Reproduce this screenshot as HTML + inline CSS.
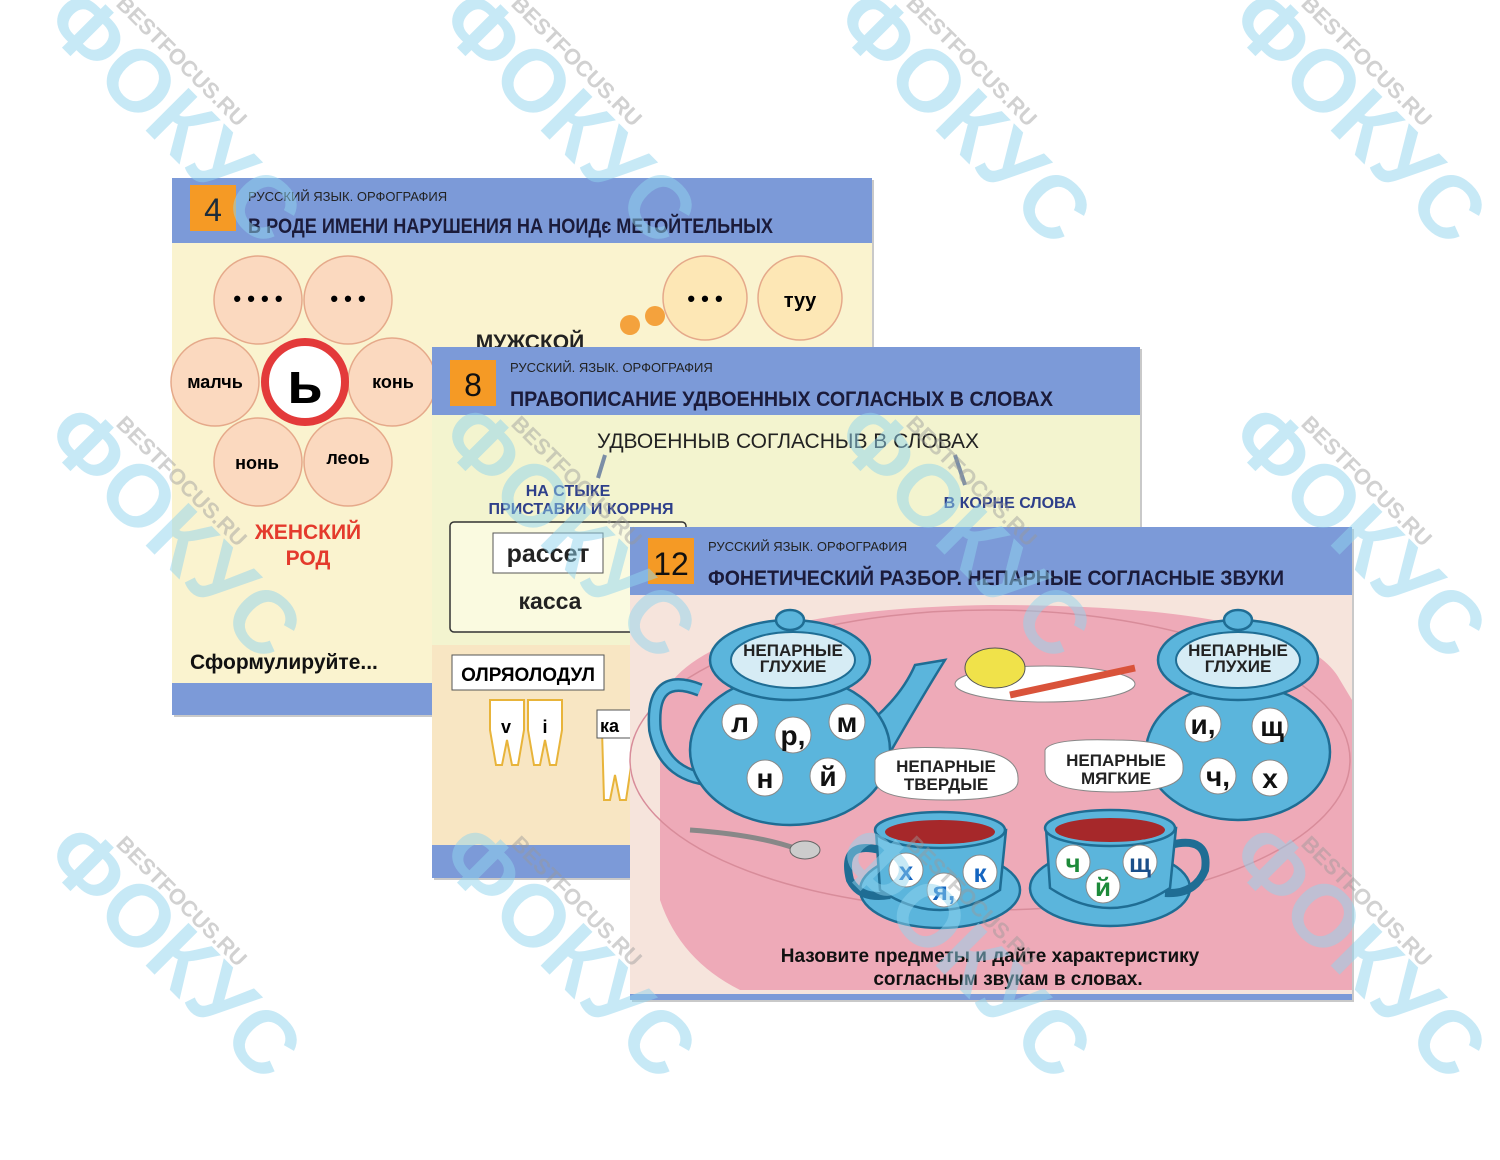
<!DOCTYPE html>
<html><head><meta charset="utf-8"><style>
html,body{margin:0;padding:0;background:#fff;}
svg{display:block;font-family:"Liberation Sans",sans-serif;}
.b{font-weight:bold}
</style></head><body>
<svg width="1500" height="1160" viewBox="0 0 1500 1160" xmlns="http://www.w3.org/2000/svg">
<rect width="1500" height="1160" fill="#fff"/>

<!-- CARD 1 -->
<g>
<rect x="174" y="180" width="700" height="537" fill="#c9c9c9"/>
<rect x="172" y="178" width="700" height="537" fill="#faf3cf"/>
<rect x="172" y="178" width="700" height="65" fill="#7c9ad8"/>
<rect x="172" y="683" width="700" height="32" fill="#7c9ad8"/>
<rect x="190" y="185" width="46" height="46" fill="#f59a25"/>
<text x="213" y="221" font-size="32" text-anchor="middle" fill="#1d2c3a">4</text>
<text x="248" y="201" font-size="13" fill="#222">РУССКИЙ ЯЗЫК. ОРФОГРАФИЯ</text>
<text x="248" y="233" font-size="21" class="b" fill="#1b1b3a" textLength="525" lengthAdjust="spacingAndGlyphs">В РОДЕ ИМЕНИ НАРУШЕНИЯ НА НОИДє МЕТОЙТЕЛЬНЫХ</text>
<g fill="#fbd9bf" stroke="#e5a98a" stroke-width="1.5">
<circle cx="258" cy="300" r="44"/><circle cx="348" cy="300" r="44"/>
<circle cx="215" cy="382" r="44"/><circle cx="392" cy="382" r="44"/>
<circle cx="258" cy="462" r="44"/><circle cx="348" cy="462" r="44"/>
<circle cx="705" cy="298" r="42" fill="#fde7b5"/><circle cx="800" cy="298" r="42" fill="#fde7b5"/>
</g>
<circle cx="305" cy="382" r="40" fill="#fff" stroke="#e33a3a" stroke-width="8"/>
<text x="305" y="403" font-size="58" class="b" text-anchor="middle">ь</text>
<text x="258" y="306" font-size="22" class="b" text-anchor="middle">• • • •</text>
<text x="348" y="306" font-size="22" class="b" text-anchor="middle">• • •</text>
<text x="705" y="306" font-size="22" class="b" text-anchor="middle">• • •</text>
<text x="800" y="307" font-size="20" class="b" text-anchor="middle">туу</text>
<text x="215" y="388" font-size="18" class="b" text-anchor="middle">малчь</text>
<text x="393" y="388" font-size="18" class="b" text-anchor="middle">конь</text>
<text x="257" y="469" font-size="18" class="b" text-anchor="middle">нонь</text>
<text x="348" y="464" font-size="18" class="b" text-anchor="middle">леоь</text>
<text x="308" y="539" font-size="21" class="b" text-anchor="middle" fill="#e43a2c">ЖЕНСКИЙ</text>
<text x="308" y="565" font-size="21" class="b" text-anchor="middle" fill="#e43a2c">РОД</text>
<text x="530" y="349" font-size="21" class="b" text-anchor="middle" fill="#222">МУЖСКОЙ</text>
<circle cx="630" cy="325" r="10" fill="#f4a23d"/><circle cx="655" cy="316" r="10" fill="#f4a23d"/>
<text x="190" y="669" font-size="21" class="b" fill="#111">Сформулируйте...</text>
</g>

<!-- CARD 2 -->
<g>
<rect x="434" y="349" width="708" height="531" fill="#c9c9c9"/>
<rect x="432" y="347" width="708" height="531" fill="#f3f4cf"/>
<rect x="432" y="645" width="708" height="233" fill="#f8e6c3"/>
<rect x="432" y="347" width="708" height="68" fill="#7c9ad8"/>
<rect x="432" y="845" width="708" height="33" fill="#7c9ad8"/>
<rect x="450" y="360" width="46" height="46" fill="#f59a25"/>
<text x="473" y="396" font-size="32" text-anchor="middle" fill="#111">8</text>
<text x="510" y="372" font-size="13" fill="#222">РУССКИЙ. ЯЗЫК. ОРФОГРАФИЯ</text>
<text x="510" y="406" font-size="21" class="b" fill="#1b1b3a" textLength="543" lengthAdjust="spacingAndGlyphs">ПРАВОПИСАНИЕ УДВОЕННЫХ СОГЛАСНЫХ В СЛОВАХ</text>
<text x="788" y="448" font-size="21" text-anchor="middle" fill="#222">УДВОЕННЫВ СОГЛАСНЫВ В СЛОВАХ</text>
<path d="M605 455 L598 478 M955 455 L965 485" stroke="#7b8ea6" stroke-width="4"/>
<text x="568" y="496" font-size="16" class="b" text-anchor="middle" fill="#2e3f8a">НА СТЫКЕ</text>
<text x="581" y="514" font-size="16" class="b" text-anchor="middle" fill="#2e3f8a">ПРИСТАВКИ И КОРРНЯ</text>
<text x="1010" y="508" font-size="16" class="b" text-anchor="middle" fill="#2e3f8a">В КОРНЕ СЛОВА</text>
<rect x="450" y="522" width="236" height="110" rx="4" fill="#fafae0" stroke="#333" stroke-width="1.5"/>
<rect x="493" y="533" width="110" height="40" fill="#fff" stroke="#555"/>
<text x="548" y="562" font-size="25" class="b" text-anchor="middle" fill="#222">рассет</text>
<text x="550" y="609" font-size="23" class="b" text-anchor="middle" fill="#222">касса</text>
<rect x="452" y="655" width="152" height="35" fill="#fff" stroke="#555"/>
<text x="528" y="681" font-size="19" class="b" text-anchor="middle">ОЛРЯОЛОДУЛ</text>
<g fill="#fff" stroke="#e8b43a" stroke-width="2">
<path d="M490 700 h34 v30 l-6 35 h-6 l-5 -25 l-5 25 h-6 l-6 -35z"/>
<path d="M528 700 h34 v30 l-6 35 h-6 l-5 -25 l-5 25 h-6 l-6 -35z"/>
<path d="M602 730 h30 v30 l-6 40 h-6 l-5 -25 l-5 25 h-6z"/>
</g>
<text x="506" y="733" font-size="18" class="b" text-anchor="middle">v</text>
<text x="545" y="733" font-size="18" class="b" text-anchor="middle">i</text>
<rect x="597" y="710" width="40" height="28" fill="#fff" stroke="#555"/>
<text x="600" y="732" font-size="18" class="b">ка</text>
</g>

<!-- CARD 3 -->
<g>
<rect x="632" y="529" width="722" height="473" fill="#c9c9c9"/>
<rect x="630" y="527" width="722" height="473" fill="#f6e4dc"/>
<path d="M660 700 Q700 610 990 605 Q1300 605 1340 680 L1352 700 L1352 990 L740 990 Q680 960 660 900Z" fill="#eeaab8"/>
<ellipse cx="990" cy="760" rx="360" ry="150" fill="none" stroke="#d88c9a" stroke-width="1.5"/>
<rect x="630" y="527" width="722" height="68" fill="#7c9ad8"/>
<rect x="630" y="994" width="722" height="6" fill="#7c9ad8"/>
<rect x="648" y="538" width="46" height="46" fill="#f59a25"/>
<text x="671" y="575" font-size="32" text-anchor="middle" fill="#111">12</text>
<text x="708" y="551" font-size="13" fill="#222">РУССКИЙ ЯЗЫК. ОРФОГРАФИЯ</text>
<text x="708" y="585" font-size="21" class="b" fill="#1b1b3a" textLength="576" lengthAdjust="spacingAndGlyphs">ФОНЕТИЧЕСКИЙ РАЗБОР. НЕПАРНЫЕ СОГЛАСНЫЕ ЗВУКИ</text>
<g fill="#5bb5dc" stroke="#1f6d94" stroke-width="2.5">
<path d="M700 690 Q650 670 655 730 Q665 780 720 780" fill="none" stroke-width="14"/>
<path d="M700 690 Q650 670 655 730 Q665 780 720 780" fill="none" stroke="#5bb5dc" stroke-width="9"/>
<path d="M860 730 Q900 700 915 665 L945 660 Q920 700 880 770Z"/>
<ellipse cx="790" cy="750" rx="100" ry="75"/>
<ellipse cx="790" cy="660" rx="80" ry="40"/>
<ellipse cx="790" cy="620" rx="14" ry="10"/>
<ellipse cx="1238" cy="752" rx="92" ry="68"/>
<ellipse cx="1238" cy="660" rx="80" ry="40"/>
<ellipse cx="1238" cy="620" rx="14" ry="10"/>
<ellipse cx="940" cy="890" rx="80" ry="38"/>
<path d="M880 850 Q840 840 850 880 Q860 900 890 895" fill="none" stroke-width="8"/>
<path d="M876 830 L880 890 Q940 930 1000 890 L1006 830Z"/>
<ellipse cx="940" cy="830" rx="65" ry="18"/>
<ellipse cx="1110" cy="888" rx="80" ry="38"/>
<path d="M1170 845 Q1210 835 1205 870 Q1195 895 1165 893" fill="none" stroke-width="8"/>
<path d="M1046 828 L1050 888 Q1110 928 1170 888 L1176 828Z"/>
<ellipse cx="1110" cy="828" rx="65" ry="18"/>
</g>
<ellipse cx="940" cy="832" rx="55" ry="12" fill="#a6282a"/>
<ellipse cx="1110" cy="830" rx="55" ry="12" fill="#a6282a"/>
<g fill="#d6ecf5" stroke="#1f6d94" stroke-width="2">
<ellipse cx="793" cy="660" rx="62" ry="28"/>
<ellipse cx="1238" cy="660" rx="62" ry="28"/>
</g>
<g fill="#fff" stroke="#888" stroke-width="1">
<circle cx="740" cy="722" r="18"/><circle cx="793" cy="735" r="18"/><circle cx="847" cy="722" r="18"/>
<circle cx="765" cy="778" r="18"/><circle cx="828" cy="776" r="18"/>
<circle cx="1203" cy="724" r="18"/><circle cx="1270" cy="726" r="18"/>
<circle cx="1218" cy="776" r="18"/><circle cx="1270" cy="778" r="18"/>
<circle cx="906" cy="870" r="17"/><circle cx="944" cy="890" r="17"/><circle cx="980" cy="872" r="17"/>
<circle cx="1073" cy="862" r="17"/><circle cx="1103" cy="886" r="17"/><circle cx="1140" cy="862" r="17"/>
<path d="M875 760 Q880 745 945 748 Q1020 748 1018 780 Q1020 800 945 800 Q875 800 875 780Z"/>
<path d="M1045 750 Q1050 738 1115 740 Q1185 740 1183 768 Q1185 792 1115 792 Q1045 792 1045 770Z"/>
<ellipse cx="1045" cy="684" rx="90" ry="18" fill="#fff"/>
</g>
<ellipse cx="995" cy="668" rx="30" ry="20" fill="#f0e24a" stroke="#555"/>
<path d="M1010 695 L1135 668" stroke="#d9533a" stroke-width="7"/>
<path d="M690 830 Q760 835 800 850" stroke="#888" stroke-width="5" fill="none"/>
<ellipse cx="805" cy="850" rx="15" ry="9" fill="#ccc" stroke="#666"/>
<g font-size="17" class="b" text-anchor="middle" fill="#222">
<text x="793" y="656">НЕПАРНЫЕ</text><text x="793" y="672">ГЛУХИЕ</text>
<text x="1238" y="656">НЕПАРНЫЕ</text><text x="1238" y="672">ГЛУХИЕ</text>
<text x="946" y="772">НЕПАРНЫЕ</text><text x="946" y="790">ТВЕРДЫЕ</text>
<text x="1116" y="766">НЕПАРНЫЕ</text><text x="1116" y="784">МЯГКИЕ</text>
</g>
<g font-size="28" class="b" text-anchor="middle" fill="#111">
<text x="740" y="732">л</text><text x="793" y="745">р,</text><text x="847" y="732">м</text>
<text x="765" y="788">н</text><text x="828" y="786">й</text>
<text x="1203" y="734">и,</text><text x="1272" y="736">щ</text>
<text x="1218" y="786">ч,</text><text x="1270" y="788">х</text>
</g>
<g font-size="26" class="b" text-anchor="middle">
<text x="906" y="880" fill="#1565c0">х</text><text x="944" y="900" fill="#1565c0">я,</text><text x="980" y="882" fill="#1565c0">к</text>
<text x="1073" y="872" fill="#1d8a3a">ч</text><text x="1103" y="896" fill="#1d8a3a">й</text><text x="1140" y="872" fill="#1b4f8a">щ</text>
</g>
<text x="990" y="962" font-size="19" class="b" text-anchor="middle" fill="#111">Назовите предметы и дайте характеристику</text>
<text x="1008" y="985" font-size="19" class="b" text-anchor="middle" fill="#111">согласным звукам в словах.</text>
</g>

<!-- WATERMARKS -->
<g fill="#8fd3ee" fill-opacity="0.5" font-size="88" class="b">
<text transform="translate(40,25) rotate(45)">ФОКУС</text>
<text transform="translate(435,25) rotate(45)">ФОКУС</text>
<text transform="translate(830,25) rotate(45)">ФОКУС</text>
<text transform="translate(1225,25) rotate(45)">ФОКУС</text>
<text transform="translate(40,440) rotate(45)">ФОКУС</text>
<text transform="translate(435,440) rotate(45)">ФОКУС</text>
<text transform="translate(830,440) rotate(45)">ФОКУС</text>
<text transform="translate(1225,440) rotate(45)">ФОКУС</text>
<text transform="translate(40,860) rotate(45)">ФОКУС</text>
<text transform="translate(435,860) rotate(45)">ФОКУС</text>
<text transform="translate(830,860) rotate(45)">ФОКУС</text>
<text transform="translate(1225,860) rotate(45)">ФОКУС</text>
</g>
<g fill="#999" fill-opacity="0.45" font-size="22" class="b">
<text transform="translate(115,5) rotate(45)">BESTFOCUS.RU</text>
<text transform="translate(510,5) rotate(45)">BESTFOCUS.RU</text>
<text transform="translate(905,5) rotate(45)">BESTFOCUS.RU</text>
<text transform="translate(1300,5) rotate(45)">BESTFOCUS.RU</text>
<text transform="translate(115,425) rotate(45)">BESTFOCUS.RU</text>
<text transform="translate(510,425) rotate(45)">BESTFOCUS.RU</text>
<text transform="translate(905,425) rotate(45)">BESTFOCUS.RU</text>
<text transform="translate(1300,425) rotate(45)">BESTFOCUS.RU</text>
<text transform="translate(115,845) rotate(45)">BESTFOCUS.RU</text>
<text transform="translate(510,845) rotate(45)">BESTFOCUS.RU</text>
<text transform="translate(905,845) rotate(45)">BESTFOCUS.RU</text>
<text transform="translate(1300,845) rotate(45)">BESTFOCUS.RU</text>
</g>
</svg>
</body></html>
